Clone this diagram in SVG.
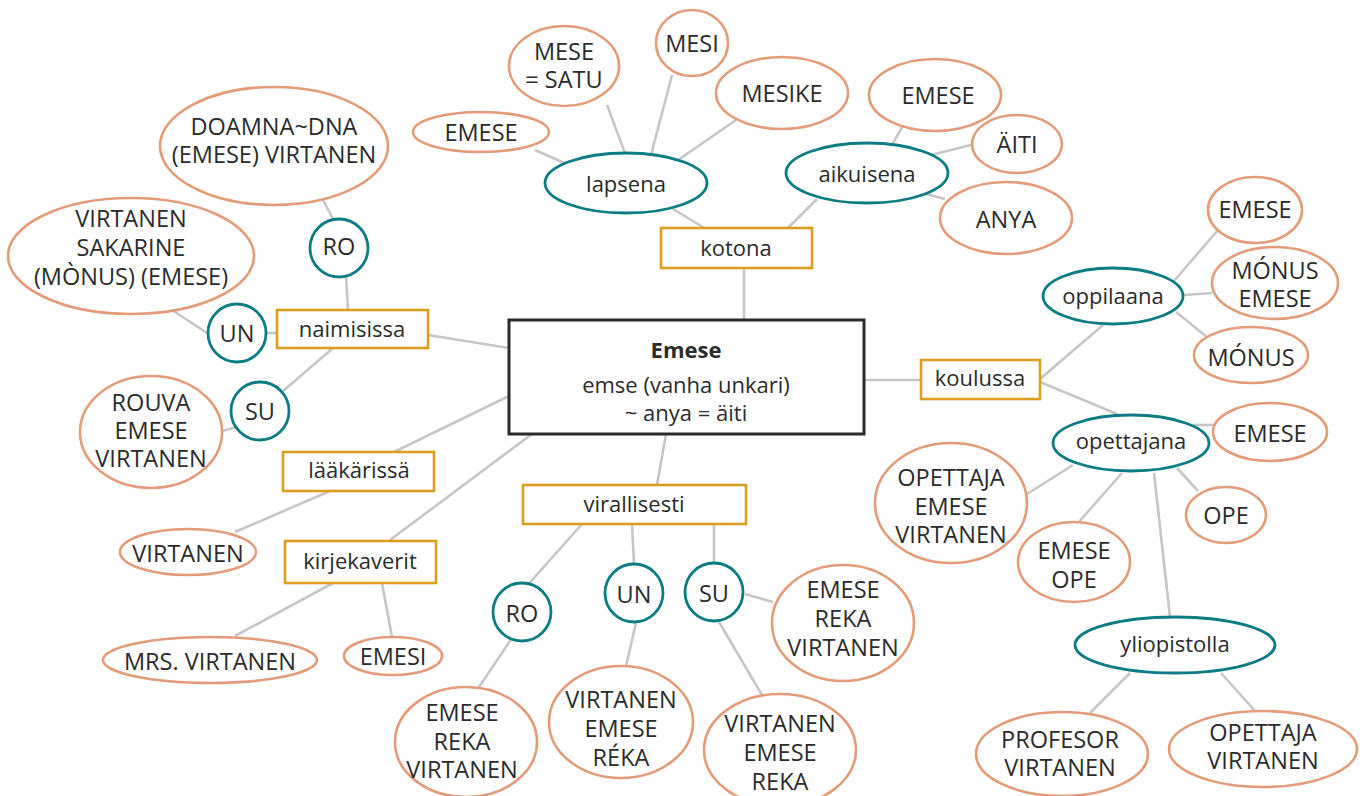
<svg xmlns="http://www.w3.org/2000/svg" width="1362" height="796" viewBox="0 0 1362 796">
<style>
text{font-family:"Open Sans","Noto Sans","Liberation Sans",sans-serif;fill:#2b2b2b;text-anchor:middle;dominant-baseline:central;}
.n{font-size:23.5px;}
.l{font-size:22px;}
.o{fill:#fff;stroke:#E39B78;stroke-width:2.6;}
.t{fill:#fff;stroke:#0B7C84;stroke-width:2.8;}
.b{fill:#fff;stroke:#DB9E1E;stroke-width:2.6;}
.c{fill:#fff;stroke:#2a2a2a;stroke-width:3;}
#connectors line{stroke:#c6c6c6;stroke-width:2.6;}
</style>
<rect width="1362" height="796" fill="#fff"/>
<g id="connectors">
<line x1="535" y1="150" x2="569" y2="165"/>
<line x1="607" y1="105" x2="625" y2="153"/>
<line x1="672" y1="75" x2="651" y2="155"/>
<line x1="736" y1="120" x2="678" y2="160"/>
<line x1="673" y1="209" x2="706" y2="229"/>
<line x1="817" y1="199" x2="787" y2="229"/>
<line x1="904" y1="124" x2="892" y2="145"/>
<line x1="971" y1="145" x2="931" y2="155"/>
<line x1="945" y1="199" x2="918" y2="192"/>
<line x1="744" y1="268" x2="744" y2="320"/>
<line x1="322" y1="198" x2="333" y2="219"/>
<line x1="346" y1="276" x2="348" y2="310"/>
<line x1="172" y1="310" x2="207" y2="333"/>
<line x1="267" y1="333" x2="277" y2="333"/>
<line x1="333" y1="348" x2="282" y2="392"/>
<line x1="237" y1="427" x2="222" y2="431"/>
<line x1="428" y1="335" x2="509" y2="348"/>
<line x1="394" y1="452" x2="509" y2="396"/>
<line x1="330" y1="491" x2="235" y2="532"/>
<line x1="390" y1="540" x2="532" y2="434"/>
<line x1="333" y1="583" x2="235" y2="636"/>
<line x1="382" y1="583" x2="392" y2="637"/>
<line x1="666" y1="434" x2="657" y2="485"/>
<line x1="582" y1="524" x2="526" y2="587"/>
<line x1="632" y1="524" x2="634" y2="564"/>
<line x1="714" y1="524" x2="714" y2="563"/>
<line x1="512" y1="638" x2="479" y2="687"/>
<line x1="636" y1="623" x2="626" y2="666"/>
<line x1="719" y1="622" x2="762" y2="695"/>
<line x1="745" y1="594" x2="773" y2="602"/>
<line x1="864" y1="380" x2="921" y2="380"/>
<line x1="1040" y1="379" x2="1103" y2="325"/>
<line x1="1174" y1="281" x2="1218" y2="230"/>
<line x1="1184" y1="295" x2="1212" y2="293"/>
<line x1="1176" y1="312" x2="1207" y2="337"/>
<line x1="1040" y1="382" x2="1117" y2="414"/>
<line x1="1193" y1="425" x2="1215" y2="425"/>
<line x1="1177" y1="468" x2="1198" y2="491"/>
<line x1="1073" y1="465" x2="1027" y2="494"/>
<line x1="1122" y1="473" x2="1078" y2="523"/>
<line x1="1154" y1="473" x2="1170" y2="617"/>
<line x1="1130" y1="673" x2="1090" y2="713"/>
<line x1="1221" y1="673" x2="1255" y2="711"/>
</g>
<g id="central"><rect class="c" x="509" y="320" width="355" height="114"/>
<text x="686" y="349" class="l" style="font-weight:bold">Emese</text>
<text x="686" y="384" class="l">emse (vanha unkari)</text>
<text x="686" y="412" class="l">~ anya = äiti</text></g>
<g id="kotona"><rect class="b" x="661" y="228" width="151" height="40"/><text x="736" y="247" class="l">kotona</text></g>
<g id="lapsena"><ellipse class="t" cx="626" cy="183" rx="81" ry="30"/><text x="626" y="183" class="l">lapsena</text></g>
<g id="aikuisena"><ellipse class="t" cx="867" cy="173" rx="81" ry="30"/><text x="867" y="173" class="l">aikuisena</text></g>
<g id="l-emese"><ellipse class="o" cx="481" cy="132" rx="68" ry="20"/><text x="481" y="132" class="n">EMESE</text></g>
<g id="l-mesesatu"><ellipse class="o" cx="564" cy="66" rx="55" ry="40"/><text x="564" y="51" class="n">MESE</text><text x="564" y="79" class="n">= SATU</text></g>
<g id="l-mesi"><ellipse class="o" cx="692" cy="43" rx="36" ry="33"/><text x="692" y="43" class="n">MESI</text></g>
<g id="l-mesike"><ellipse class="o" cx="782" cy="93" rx="66" ry="36"/><text x="782" y="93" class="n">MESIKE</text></g>
<g id="a-emese"><ellipse class="o" cx="935" cy="95" rx="66" ry="36"/><text x="938" y="95" class="n">EMESE</text></g>
<g id="a-aiti"><ellipse class="o" cx="1017" cy="144" rx="45" ry="29"/><text x="1017" y="144" class="n">ÄITI</text></g>
<g id="a-anya"><ellipse class="o" cx="1006" cy="218" rx="66" ry="36"/><text x="1006" y="219" class="n">ANYA</text></g>
<g id="naimisissa"><rect class="b" x="277" y="310" width="151" height="38"/><text x="352" y="328" class="l">naimisissa</text></g>
<g id="n-ro"><circle class="t" cx="339" cy="248" r="29"/><text x="339" y="246" class="n">RO</text></g>
<g id="n-un"><circle class="t" cx="237" cy="333" r="29"/><text x="237" y="333" class="n">UN</text></g>
<g id="n-su"><circle class="t" cx="260" cy="411" r="29"/><text x="260" y="411" class="n">SU</text></g>
<g id="n-doamna"><ellipse class="o" cx="274" cy="146" rx="114" ry="59"/><text x="274" y="126" class="n">DOAMNA~DNA</text><text x="274" y="154" class="n">(EMESE) VIRTANEN</text></g>
<g id="n-sakarine"><ellipse class="o" cx="131" cy="256" rx="123" ry="58"/><text x="131" y="218" class="n">VIRTANEN</text><text x="131" y="247" class="n">SAKARINE</text><text x="131" y="276" class="n">(MÒNUS) (EMESE)</text></g>
<g id="n-rouva"><ellipse class="o" cx="151" cy="432" rx="71" ry="56"/><text x="151" y="402" class="n">ROUVA</text><text x="151" y="430" class="n">EMESE</text><text x="151" y="458" class="n">VIRTANEN</text></g>
<g id="laakarissa"><rect class="b" x="283" y="452" width="151" height="39"/><text x="359" y="469" class="l">lääkärissä</text></g>
<g id="la-virtanen"><ellipse class="o" cx="188" cy="552" rx="68" ry="23"/><text x="188" y="553" class="n">VIRTANEN</text></g>
<g id="kirjekaverit"><rect class="b" x="285" y="541" width="151" height="42"/><text x="360" y="560" class="l">kirjekaverit</text></g>
<g id="k-mrs"><ellipse class="o" cx="210" cy="660" rx="107" ry="23"/><text x="210" y="661" class="n">MRS. VIRTANEN</text></g>
<g id="k-emesi"><ellipse class="o" cx="393" cy="656" rx="49" ry="19"/><text x="393" y="656" class="n">EMESI</text></g>
<g id="virallisesti"><rect class="b" x="523" y="485" width="223" height="39"/><text x="634" y="503" class="l">virallisesti</text></g>
<g id="v-ro"><circle class="t" cx="522" cy="612" r="29"/><text x="522" y="613" class="n">RO</text></g>
<g id="v-un"><circle class="t" cx="634" cy="593" r="29"/><text x="634" y="594" class="n">UN</text></g>
<g id="v-su"><circle class="t" cx="714" cy="592" r="29"/><text x="714" y="593" class="n">SU</text></g>
<g id="v-ro-name"><ellipse class="o" cx="466" cy="742" rx="71" ry="55"/><text x="462" y="712" class="n">EMESE</text><text x="462" y="741" class="n">REKA</text><text x="462" y="769" class="n">VIRTANEN</text></g>
<g id="v-un-name"><ellipse class="o" cx="621" cy="722" rx="72" ry="56"/><text x="621" y="699" class="n">VIRTANEN</text><text x="621" y="728" class="n">EMESE</text><text x="621" y="757" class="n">RÉKA</text></g>
<g id="v-su-name1"><ellipse class="o" cx="843" cy="623" rx="71" ry="58"/><text x="843" y="589" class="n">EMESE</text><text x="843" y="618" class="n">REKA</text><text x="843" y="647" class="n">VIRTANEN</text></g>
<g id="v-su-name2"><ellipse class="o" cx="780" cy="750" rx="76" ry="56"/><text x="780" y="723" class="n">VIRTANEN</text><text x="780" y="752" class="n">EMESE</text><text x="780" y="781" class="n">REKA</text></g>
<g id="koulussa"><rect class="b" x="921" y="360" width="119" height="39"/><text x="980" y="377" class="l">koulussa</text></g>
<g id="oppilaana"><ellipse class="t" cx="1113" cy="296" rx="70" ry="28"/><text x="1113" y="295" class="l">oppilaana</text></g>
<g id="o-emese"><ellipse class="o" cx="1255" cy="210" rx="47" ry="33"/><text x="1255" y="209" class="n">EMESE</text></g>
<g id="o-monusemese"><ellipse class="o" cx="1275" cy="283" rx="63" ry="36"/><text x="1275" y="270" class="n">MÓNUS</text><text x="1275" y="298" class="n">EMESE</text></g>
<g id="o-monus"><ellipse class="o" cx="1251" cy="355" rx="57" ry="28"/><text x="1251" y="357" class="n">MÓNUS</text></g>
<g id="opettajana"><ellipse class="t" cx="1131" cy="443" rx="78" ry="28"/><text x="1131" y="440" class="l">opettajana</text></g>
<g id="op-emese"><ellipse class="o" cx="1270" cy="432" rx="57" ry="29"/><text x="1270" y="433" class="n">EMESE</text></g>
<g id="op-ope"><ellipse class="o" cx="1226" cy="515" rx="40" ry="28"/><text x="1226" y="515" class="n">OPE</text></g>
<g id="op-opettaja"><ellipse class="o" cx="951" cy="503" rx="76" ry="60"/><text x="951" y="477" class="n">OPETTAJA</text><text x="951" y="506" class="n">EMESE</text><text x="951" y="534" class="n">VIRTANEN</text></g>
<g id="op-emeseope"><ellipse class="o" cx="1074" cy="562" rx="56" ry="40"/><text x="1074" y="550" class="n">EMESE</text><text x="1074" y="579" class="n">OPE</text></g>
<g id="yliopistolla"><ellipse class="t" cx="1175" cy="645" rx="100" ry="28"/><text x="1175" y="643" class="l">yliopistolla</text></g>
<g id="y-profesor"><ellipse class="o" cx="1062" cy="754" rx="86" ry="42"/><text x="1060" y="739" class="n">PROFESOR</text><text x="1060" y="767" class="n">VIRTANEN</text></g>
<g id="y-opettaja"><ellipse class="o" cx="1263" cy="749" rx="94" ry="38"/><text x="1263" y="732" class="n">OPETTAJA</text><text x="1263" y="760" class="n">VIRTANEN</text></g>
</svg>
